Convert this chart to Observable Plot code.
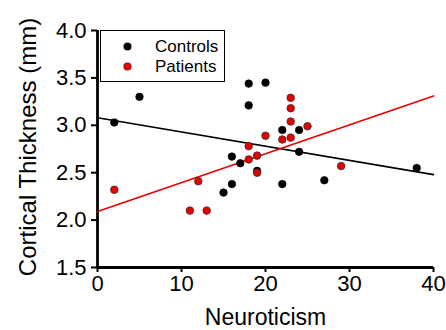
<!DOCTYPE html>
<html>
<head>
<meta charset="utf-8">
<script src="https://cdn.jsdelivr.net/npm/d3@7"></script>
<script src="https://cdn.jsdelivr.net/npm/@observablehq/plot@0.6"></script>
<style>
  html, body { margin: 0; padding: 0; background: #fff; }
  #wrap { position: relative; width: 446px; height: 330px; font-family: "Liberation Sans", Arial, sans-serif; }
  #legend { position: absolute; left: 100px; top: 30px; width: 123px; height: 50px; border: 1.5px solid #000; background: #fff; }
  .entry { position: absolute; left: 0; height: 20px; font-size: 17px; color: #000; }
  .dot { position: absolute; width: 7px; height: 7px; border-radius: 50%; }
  .lab { position: absolute; left: 54px; top: 0; line-height: 20px; white-space: nowrap; }
</style>
</head>
<body>
<div id="wrap"></div>
<script>
// ---- data ----
const groups = ["Controls", "Patients"];
const groupColors = ["#000000", "#e80000"];
const controlsX = [2, 5, 15, 16, 16, 17, 18, 18, 19, 20, 22, 22, 24, 24, 27, 38];
const controlsY = [3.03, 3.30, 2.29, 2.38, 2.67, 2.60, 3.44, 3.21, 2.52, 3.45, 2.95, 2.38, 2.95, 2.72, 2.42, 2.55];
const patientsX = [2, 11, 12, 13, 18, 18, 19, 19, 20, 22, 23, 23, 23, 23, 25, 29];
const patientsY = [2.32, 2.10, 2.41, 2.10, 2.78, 2.64, 2.68, 2.50, 2.89, 2.85, 3.29, 3.18, 3.04, 2.87, 2.99, 2.57];
const fitX = [0, 40];
const controlsFit = [3.08, 2.48];
const patientsFit = [2.09, 3.31];
const xTicks = [0, 10, 20, 30, 40];
const yTicks = [1.5, 2.0, 2.5, 3.0, 3.5, 4.0];
const xLabel = "Neuroticism";
const yLabel = "Cortical Thickness (mm)";

// ---- tables ----
const controls = controlsX.map((x, i) => ({x, y: controlsY[i]}));
const patients = patientsX.map((x, i) => ({x, y: patientsY[i]}));
const fitC = fitX.map((x, i) => ({x, y: controlsFit[i]}));
const fitP = fitX.map((x, i) => ({x, y: patientsFit[i]}));

const font = '"Liberation Sans", Arial, sans-serif';

const chart = Plot.plot({
  width: 446,
  height: 330,
  marginLeft: 97,
  marginRight: 13,
  marginTop: 30,
  marginBottom: 63,
  style: {fontFamily: font, color: "#000", background: "#fff", overflow: "visible"},
  x: {domain: [0, 40]},
  y: {domain: [1.5, 4.0]},
  marks: [
    Plot.axisX({ticks: xTicks, tickSize: 5, tickPadding: 3, fontSize: 22, strokeWidth: 2, label: null}),
    Plot.axisY({ticks: yTicks, tickSize: 6, tickPadding: 5, fontSize: 22, strokeWidth: 2, tickFormat: d3.format(".1f"), label: null}),
    Plot.ruleX([0], {y1: 1.5, y2: 4.0, stroke: "#000", strokeWidth: 2.8}),
    Plot.ruleY([1.5], {x1: 0, x2: 40, stroke: "#000", strokeWidth: 2.8}),
    Plot.line(fitC, {x: "x", y: "y", stroke: groupColors[0], strokeWidth: 1.6}),
    Plot.line(fitP, {x: "x", y: "y", stroke: groupColors[1], strokeWidth: 1.6}),
    Plot.dot(controls, {x: "x", y: "y", r: 3.8, fill: groupColors[0], stroke: "#000", strokeWidth: 0.6}),
    Plot.dot(patients, {x: "x", y: "y", r: 3.8, fill: groupColors[1], stroke: "#333", strokeWidth: 0.8}),
    Plot.text([xLabel], {frameAnchor: "bottom", dy: 57, text: d => d, fontSize: 23, textAnchor: "middle", lineAnchor: "bottom", fill: "#000"}),
    Plot.text([yLabel], {frameAnchor: "left", dx: -69, dy: -2, rotate: -90, text: d => d, fontSize: 24, textAnchor: "middle", lineAnchor: "middle", fill: "#000"})
  ]
});

const wrap = document.getElementById("wrap");
wrap.appendChild(chart);

const legend = document.createElement("div");
legend.id = "legend";
groups.forEach((g, i) => {
  const e = document.createElement("div");
  e.className = "entry";
  e.style.top = (6 + i * 20) + "px";
  e.style.width = "100%";
  const d = document.createElement("span");
  d.className = "dot";
  d.style.left = "23px";
  d.style.top = "6px";
  d.style.background = groupColors[i];
  d.style.boxShadow = "0 0 0 0.6px #333";
  const l = document.createElement("span");
  l.className = "lab";
  l.textContent = g;
  e.appendChild(d);
  e.appendChild(l);
  legend.appendChild(e);
});
wrap.appendChild(legend);
</script>
</body>
</html>
